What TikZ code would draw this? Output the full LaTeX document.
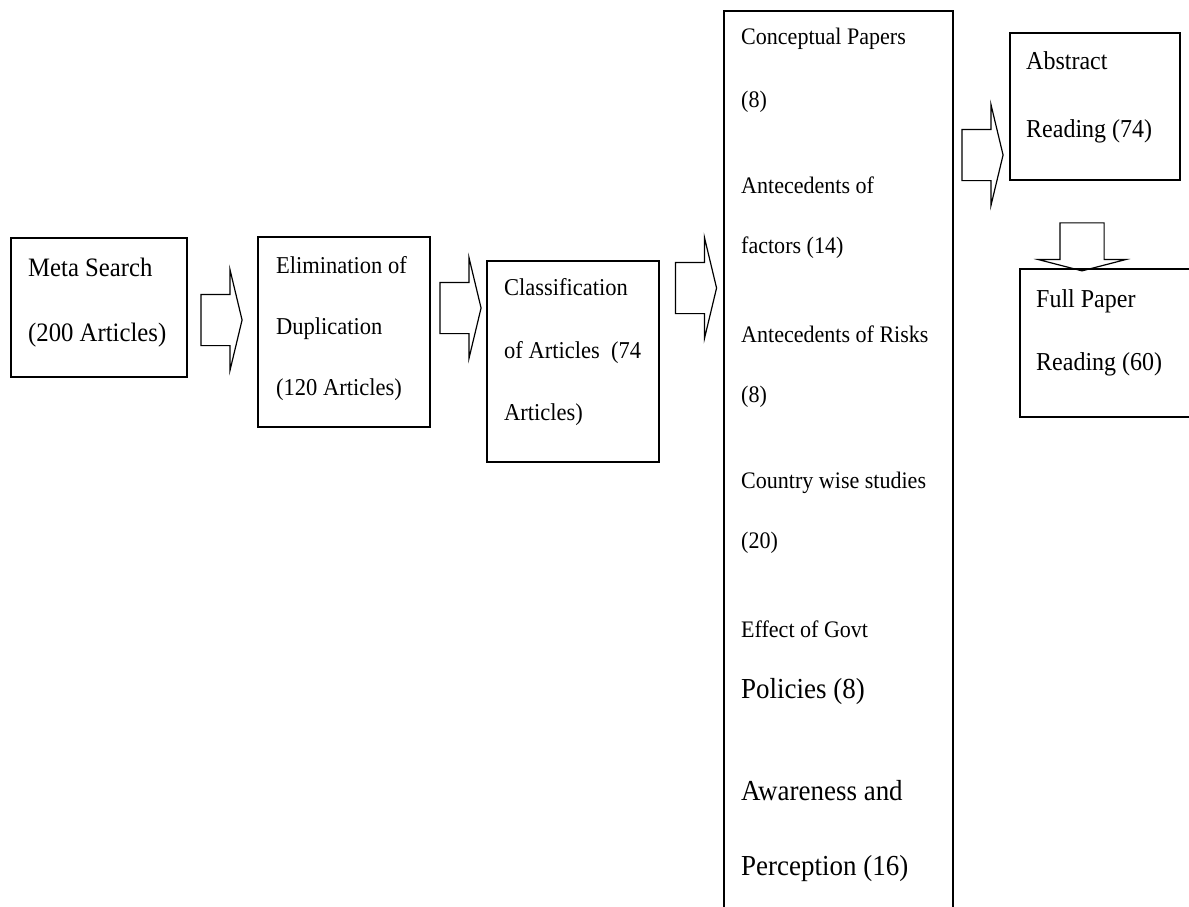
\documentclass[tikz,border=0pt]{standalone}
\usepackage{fontspec}
\setmainfont[FakeStretch=0.93]{Liberation Serif}
\usetikzlibrary{shapes.arrows}

\tikzset{
    stage/.style={draw, line width=1.2pt, inner sep=0pt},
    flow/.style={single arrow, draw, line width=1.2pt, inner xsep=0pt, inner ysep=25pt,
        minimum width=100, minimum height=41,
        single arrow head extend=25, single arrow tip angle=153},
    lbl/.style={anchor=base west, inner sep=0pt, font=\fontsize{23.7}{28}\selectfont}
}

\begin{document}
\begin{tikzpicture}[x=1pt, y=-1pt]

    \useasboundingbox (0,0) rectangle (1189,907);

    % The stage boxes
    \node[stage, minimum width=176, minimum height=139] (meta) at (99,307.5) {};
    \node[stage, minimum width=172, minimum height=190] (elim) at (344,332) {};
    \node[stage, minimum width=172, minimum height=201] (class) at (573,361.5) {};
    \node[stage, minimum width=229, minimum height=909] (groups) at (838.5,465.5) {};
    \node[stage, minimum width=170, minimum height=147] (abstr) at (1095,106.5) {};
    \node[stage, minimum width=175, minimum height=148] (full) at (1107.5,343) {};

    % Block arrows between the stages
    \node[flow] (a1) at (218.5,320) {};
    \node[flow] (a2) at (457.5,308) {};
    \node[flow] (a3) at (693,288) {};
    \node[flow] (a4) at (979.5,155) {};
    \node[flow, rotate=-90, inner ysep=21.5pt, minimum width=86, minimum height=48,
        single arrow head extend=21.5, single arrow tip angle=151] (a5) at (1082,244) {};

    % Texts of the first three stages
    \node[lbl, font=\fontsize{26.6}{32}\selectfont] (m1) at (28,276) {Meta Search};
    \node[lbl, font=\fontsize{26.6}{32}\selectfont] (m2) at (28,341) {(200 Articles)};
    \node[lbl, font=\fontsize{24.2}{29}\selectfont] (e1) at (276,273) {Elimination of};
    \node[lbl, font=\fontsize{24.2}{29}\selectfont] (e2) at (276,334) {Duplication};
    \node[lbl, font=\fontsize{24.2}{29}\selectfont] (e3) at (276,395) {(120 Articles)};
    \node[lbl, font=\fontsize{24.2}{29}\selectfont] (c1) at (504,295) {Classification};
    \node[lbl, font=\fontsize{24.2}{29}\selectfont] (c2) at (504,358) {of Articles\ \ (74};
    \node[lbl, font=\fontsize{24.2}{29}\selectfont] (c3) at (504,420) {Articles)};

    % Texts of the groups box
    \foreach \i/\y/\txt in {1/45/Conceptual Papers, 2/107/(8), 3/193/Antecedents of,
            4/253/factors (14), 5/342/Antecedents of Risks, 6/402/(8),
            7/488/Country wise studies, 8/548/(20), 9/637/Effect of Govt} {
        \node[lbl] (g\i) at (741,\y) {\txt};
    }
    \node[lbl, font=\fontsize{29}{34}\selectfont] (g10) at (741,698) {Policies (8)};
    \node[lbl, font=\fontsize{29}{34}\selectfont] (g11) at (741,800) {Awareness and};
    \node[lbl, font=\fontsize{29}{34}\selectfont] (g12) at (741,875) {Perception (16)};

    % Texts of the reading stages
    \node[lbl, font=\fontsize{25.8}{31}\selectfont] (r1) at (1026,70) {Abstract};
    \node[lbl, font=\fontsize{25.8}{31}\selectfont] (r2) at (1026,137) {Reading (74)};
    \node[lbl, font=\fontsize{25.8}{31}\selectfont] (f1) at (1036,307) {Full Paper};
    \node[lbl, font=\fontsize{25.8}{31}\selectfont] (f2) at (1036,370) {Reading (60)};

\end{tikzpicture}
\end{document}
